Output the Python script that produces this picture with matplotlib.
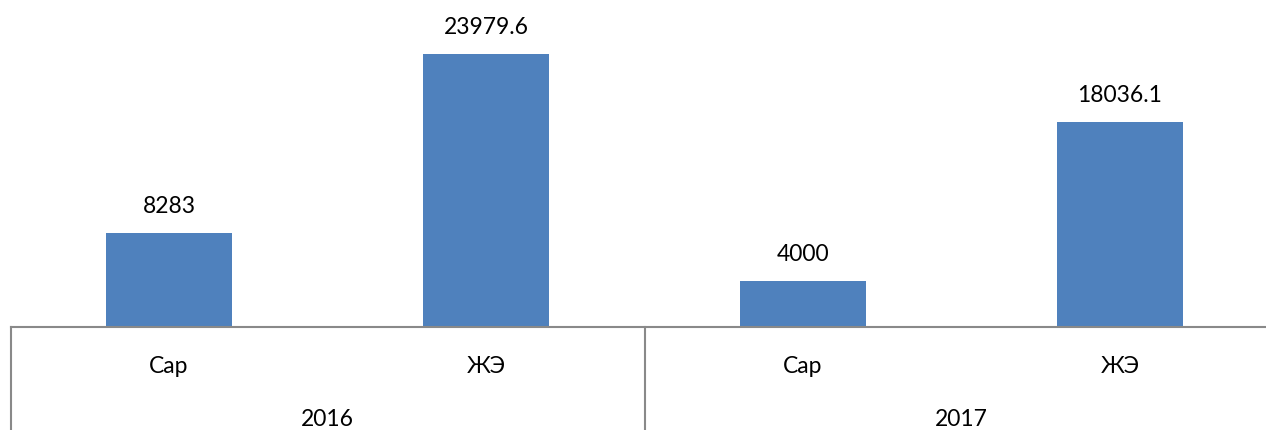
import matplotlib
matplotlib.use("Agg")
import matplotlib.pyplot as plt
import matplotlib.transforms as mtransforms

years = ["2016", "2017"]
categories = ["Сар", "ЖЭ", "Сар", "ЖЭ"]
values = [8283, 23979.6, 4000, 18036.1]
value_labels = ["8283", "23979.6", "4000", "18036.1"]

BAR = "#4F81BD"
AXIS = "#898989"
W, H = 1266, 430
FS = 16.5

plt.rcParams["font.family"] = ["Lato", "DejaVu Sans"]
fig = plt.figure(figsize=(W / 100, H / 100), dpi=100)
x0, x1, base = 10.5, 10.5 + 4 * 317, 327
ax = fig.add_axes([x0 / W, (H - base) / H, (x1 - x0) / W, base / H])
xs = range(len(values))
bars = ax.bar(xs, values, width=0.4, color=BAR)
ax.set_xlim(-0.5, len(values) - 0.5)
ax.set_ylim(0, base / (273 / 23979.6))
for side in ("top", "right", "left"):
    ax.spines[side].set_visible(False)
ax.spines["bottom"].set_color(AXIS)
ax.spines["bottom"].set_linewidth(1.5)
ax.set_xticks([])
ax.set_yticks([])

for b, lab in zip(bars, value_labels):
    ax.annotate(lab, (b.get_x() + b.get_width() / 2, b.get_height()),
                xytext=(0, 14.4), textcoords="offset points",
                ha="center", va="baseline", fontsize=FS, color="#000000")

trans = mtransforms.blended_transform_factory(ax.transData, ax.transAxes)
for x, c in zip(xs, categories):
    ax.text(x, (base - 373) / base, c, transform=trans, ha="center", va="baseline", fontsize=FS)
for i, y in enumerate(years):
    ax.text(2 * i + 0.5, (base - 426) / base, y, transform=trans, ha="center", va="baseline", fontsize=FS)
for xv in (-0.5, 1.5, 3.5):
    ax.plot([xv, xv], [0, -0.4], transform=trans, color=AXIS, lw=1.5, clip_on=False)

fig.savefig("out.png", dpi=100)
